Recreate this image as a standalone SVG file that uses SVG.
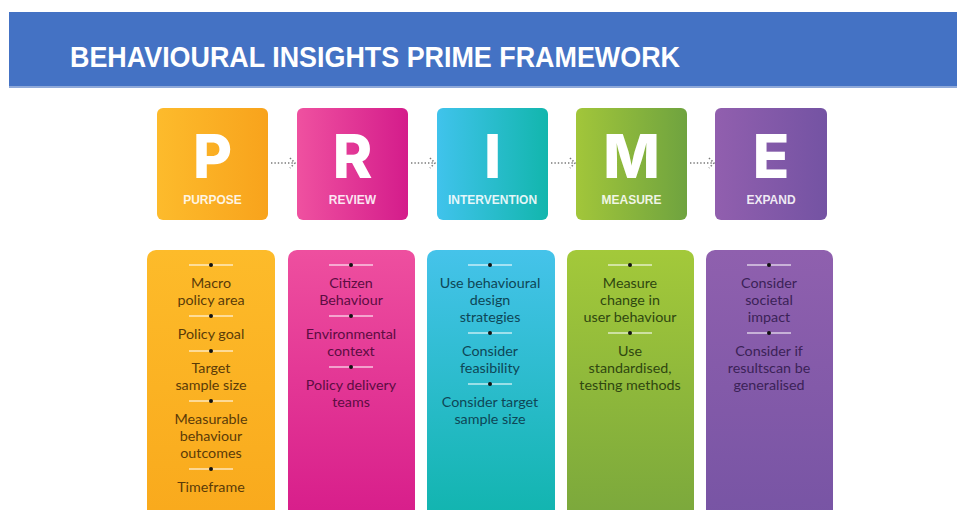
<svg xmlns="http://www.w3.org/2000/svg" width="957" height="510" viewBox="0 0 957 510">
  <defs>
    <!-- header tiles: horizontal colour ramps -->
    <linearGradient id="gP" x1="0" y1="0" x2="1" y2="0"><stop offset="0" stop-color="#fdbb2c"/><stop offset="1" stop-color="#f8a31c"/></linearGradient>
    <linearGradient id="gR" x1="0" y1="0" x2="1" y2="0"><stop offset="0" stop-color="#ef51a0"/><stop offset="1" stop-color="#d41c8b"/></linearGradient>
    <linearGradient id="gI" x1="0" y1="0" x2="1" y2="0"><stop offset="0" stop-color="#40c3ec"/><stop offset="1" stop-color="#12b6ad"/></linearGradient>
    <linearGradient id="gM" x1="0" y1="0" x2="1" y2="0"><stop offset="0" stop-color="#a2c63a"/><stop offset="1" stop-color="#6fa33f"/></linearGradient>
    <linearGradient id="gE" x1="0" y1="0" x2="1" y2="0"><stop offset="0" stop-color="#915fae"/><stop offset="1" stop-color="#7453a3"/></linearGradient>
    <!-- detail columns: vertical colour ramps -->
    <linearGradient id="cP" x1="0" y1="0" x2="0" y2="1"><stop offset="0" stop-color="#fdbb2a"/><stop offset="1" stop-color="#f9a91c"/></linearGradient>
    <linearGradient id="cR" x1="0" y1="0" x2="0" y2="1"><stop offset="0" stop-color="#ee4f9f"/><stop offset="1" stop-color="#d71c8a"/></linearGradient>
    <linearGradient id="cI" x1="0" y1="0" x2="0" y2="1"><stop offset="0" stop-color="#45c3ea"/><stop offset="1" stop-color="#10b4ad"/></linearGradient>
    <linearGradient id="cM" x1="0" y1="0" x2="0" y2="1"><stop offset="0" stop-color="#a3c93a"/><stop offset="1" stop-color="#7aa73c"/></linearGradient>
    <linearGradient id="cE" x1="0" y1="0" x2="0" y2="1"><stop offset="0" stop-color="#8f60ae"/><stop offset="1" stop-color="#7754a4"/></linearGradient>
    <!-- divider: short pale rule with a dark centre dot -->
    <g id="div">
      <line x1="-22" y1="0" x2="22" y2="0" stroke="#ffffff" stroke-opacity="0.7" stroke-width="1.3"/>
      <circle cx="0" cy="0" r="2" fill="#111"/>
    </g>
    <!-- dotted arrow between header tiles -->
    <g id="arrow" fill="none" stroke="#7a7a7a" stroke-width="1.6" stroke-dasharray="1.4 2" stroke-linecap="butt">
      <line x1="0" y1="0" x2="22" y2="0"/>
      <polyline points="19,-5 24,0 19,5"/>
    </g>
  </defs>
  <style>
    .letter { font-family: Inter, "Open Sans", "Liberation Sans", sans-serif; font-weight: 800; font-size: 60px; fill: #ffffff; text-anchor: middle; }
    .label { font-family: "Liberation Sans", Arial, sans-serif; font-weight: 700; font-size: 12px; fill: #ffffff; fill-opacity: 0.88; text-anchor: middle; }
    .item { font-family: Lato, "Noto Sans", "Liberation Sans", sans-serif; font-size: 14.3px; text-anchor: middle; }
    .tP { fill: #5a3b08; }
    .tR { fill: #5c0d42; }
    .tI { fill: #0e4656; }
    .tM { fill: #2f4710; }
    .tE { fill: #3b2257; }
  </style>

  <rect width="957" height="510" fill="#ffffff"/>

  <!-- title banner -->
  <g id="banner">
    <rect x="9" y="12" width="948" height="75" fill="#4472c4"/>
    <rect x="9" y="86" width="948" height="2" fill="#8fa9d9"/>
    <text x="70" y="67" font-family="'Liberation Sans', Arial, sans-serif" font-weight="700" font-size="30" fill="#ffffff" textLength="610" lengthAdjust="spacingAndGlyphs">BEHAVIOURAL INSIGHTS PRIME FRAMEWORK</text>
  </g>

  <!-- header tiles -->
  <g id="tile-purpose">
    <rect x="157" y="108" width="111" height="112" rx="6" fill="url(#gP)"/>
    <text class="letter" x="212.5" y="178">P</text>
    <text class="label" x="212.5" y="204">PURPOSE</text>
  </g>
  <g id="tile-review">
    <rect x="297" y="108" width="111" height="112" rx="6" fill="url(#gR)"/>
    <text class="letter" x="352.5" y="178">R</text>
    <text class="label" x="352.5" y="204">REVIEW</text>
  </g>
  <g id="tile-intervention">
    <rect x="437" y="108" width="111" height="112" rx="6" fill="url(#gI)"/>
    <text class="letter" x="492.5" y="178">I</text>
    <text class="label" x="492.5" y="204">INTERVENTION</text>
  </g>
  <g id="tile-measure">
    <rect x="576" y="108" width="111" height="112" rx="6" fill="url(#gM)"/>
    <text class="letter" x="631.5" y="178">M</text>
    <text class="label" x="631.5" y="204">MEASURE</text>
  </g>
  <g id="tile-expand">
    <rect x="715" y="108" width="112" height="112" rx="6" fill="url(#gE)"/>
    <text class="letter" x="771" y="178">E</text>
    <text class="label" x="771" y="204">EXPAND</text>
  </g>

  <!-- connectors -->
  <g id="connectors">
    <use href="#arrow" x="271" y="163"/>
    <use href="#arrow" x="411" y="163"/>
    <use href="#arrow" x="551" y="163"/>
    <use href="#arrow" x="690" y="163"/>
  </g>

  <!-- detail columns -->
  <g id="col-purpose">
    <rect x="147" y="250" width="128" height="275" rx="9" fill="url(#cP)"/>
    <use href="#div" x="211" y="265"/>
    <text class="item tP" x="211" y="288">Macro</text>
    <text class="item tP" x="211" y="305">policy area</text>
    <use href="#div" x="211" y="316"/>
    <text class="item tP" x="211" y="339">Policy goal</text>
    <use href="#div" x="211" y="351"/>
    <text class="item tP" x="211" y="373">Target</text>
    <text class="item tP" x="211" y="390">sample size</text>
    <use href="#div" x="211" y="401"/>
    <text class="item tP" x="211" y="424">Measurable</text>
    <text class="item tP" x="211" y="441">behaviour</text>
    <text class="item tP" x="211" y="458">outcomes</text>
    <use href="#div" x="211" y="469"/>
    <text class="item tP" x="211" y="492">Timeframe</text>
  </g>
  <g id="col-review">
    <rect x="288" y="250" width="127" height="275" rx="9" fill="url(#cR)"/>
    <use href="#div" x="351" y="265"/>
    <text class="item tR" x="351" y="288">Citizen</text>
    <text class="item tR" x="351" y="305">Behaviour</text>
    <use href="#div" x="351" y="316"/>
    <text class="item tR" x="351" y="339">Environmental</text>
    <text class="item tR" x="351" y="356">context</text>
    <use href="#div" x="351" y="367"/>
    <text class="item tR" x="351" y="390">Policy delivery</text>
    <text class="item tR" x="351" y="407">teams</text>
  </g>
  <g id="col-intervention">
    <rect x="427" y="250" width="128" height="275" rx="9" fill="url(#cI)"/>
    <use href="#div" x="490" y="265"/>
    <text class="item tI" x="490" y="288">Use behavioural</text>
    <text class="item tI" x="490" y="305">design</text>
    <text class="item tI" x="490" y="322">strategies</text>
    <use href="#div" x="490" y="333"/>
    <text class="item tI" x="490" y="356">Consider</text>
    <text class="item tI" x="490" y="373">feasibility</text>
    <use href="#div" x="490" y="384"/>
    <text class="item tI" x="490" y="407">Consider target</text>
    <text class="item tI" x="490" y="424">sample size</text>
  </g>
  <g id="col-measure">
    <rect x="567" y="250" width="127" height="275" rx="9" fill="url(#cM)"/>
    <use href="#div" x="630" y="265"/>
    <text class="item tM" x="630" y="288">Measure</text>
    <text class="item tM" x="630" y="305">change in</text>
    <text class="item tM" x="630" y="322">user behaviour</text>
    <use href="#div" x="630" y="333"/>
    <text class="item tM" x="630" y="356">Use</text>
    <text class="item tM" x="630" y="373">standardised,</text>
    <text class="item tM" x="630" y="390">testing methods</text>
  </g>
  <g id="col-expand">
    <rect x="706" y="250" width="127" height="275" rx="9" fill="url(#cE)"/>
    <use href="#div" x="769" y="265"/>
    <text class="item tE" x="769" y="288">Consider</text>
    <text class="item tE" x="769" y="305">societal</text>
    <text class="item tE" x="769" y="322">impact</text>
    <use href="#div" x="769" y="333"/>
    <text class="item tE" x="769" y="356">Consider if</text>
    <text class="item tE" x="769" y="373">resultscan be</text>
    <text class="item tE" x="769" y="390">generalised</text>
  </g>
</svg>
